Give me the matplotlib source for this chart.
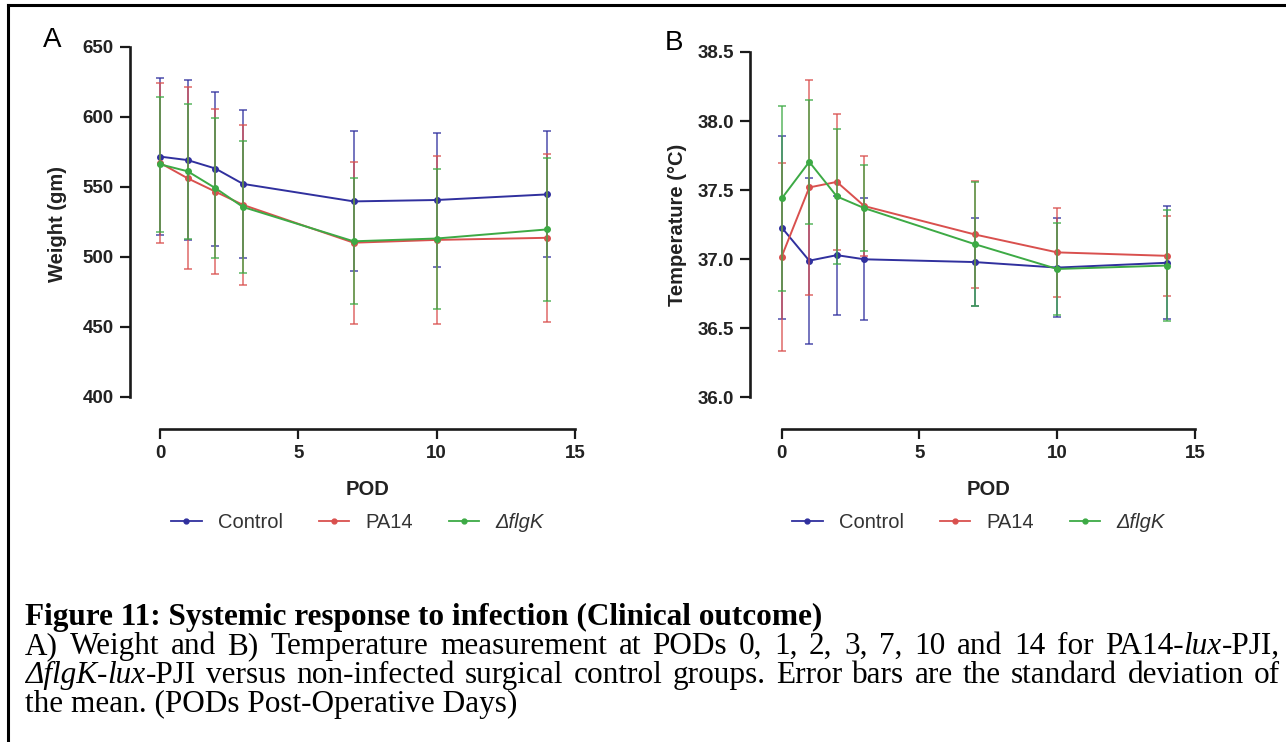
import numpy as np
import matplotlib
matplotlib.use('Agg')
import matplotlib.pyplot as plt
from matplotlib.lines import Line2D

plt.rcParams['font.family'] = ['Liberation Sans', 'DejaVu Sans']

# post-operative days
pod = [0, 1, 2, 3, 7, 10, 14]

# A) weight (gm), mean and SD
weight_control = [571.5, 569, 563, 552, 539.5, 540.5, 544.5]
weight_control_sd = [56, 57, 55, 53, 50, 48, 45]
weight_pa14 = [567, 556, 546.5, 537, 510, 512, 513.5]
weight_pa14_sd = [57, 65, 59, 57, 58, 60, 60]
weight_flgk = [566, 561, 549, 535.5, 511, 513, 519.5]
weight_flgk_sd = [48, 48, 50, 47, 45, 50, 51]

# B) temperature (°C), mean and SD
temp_control = [37.23, 36.99, 37.03, 37.00, 36.98, 36.94, 36.975]
temp_control_sd = [0.66, 0.60, 0.43, 0.44, 0.32, 0.36, 0.41]
temp_pa14 = [37.02, 37.52, 37.56, 37.385, 37.18, 37.05, 37.025]
temp_pa14_sd = [0.68, 0.78, 0.49, 0.36, 0.39, 0.32, 0.29]
temp_flgk = [37.44, 37.705, 37.455, 37.37, 37.11, 36.93, 36.955]
temp_flgk_sd = [0.67, 0.45, 0.49, 0.31, 0.45, 0.33, 0.40]

group_labels = ['Control', 'PA14', 'ΔflgK']
group_colors = ['#30309e', '#d9504e', '#3daa45']

W, H = 1286, 742
fig = plt.figure(figsize=(W / 100, H / 100), dpi=100)


def px_axes(x0, x1, y_top, y_bot):
    return fig.add_axes([x0 / W, 1 - y_bot / H, (x1 - x0) / W, (y_bot - y_top) / H])


def style_prism(ax, xlim, ylim, yticks, left_off, bottom_off):
    ax.set_xlim(*xlim)
    ax.set_ylim(*ylim)
    ax.spines['top'].set_visible(False)
    ax.spines['right'].set_visible(False)
    ax.spines['left'].set_position(('outward', left_off))
    ax.spines['bottom'].set_position(('outward', bottom_off))
    ax.spines['left'].set_bounds(*ylim)
    ax.spines['bottom'].set_bounds(*xlim)
    for s in ('left', 'bottom'):
        ax.spines[s].set_linewidth(1.9)
        ax.spines[s].set_color('#1a1a1a')
    ax.set_xticks([0, 5, 10, 15])
    ax.set_yticks(yticks)
    ax.tick_params(direction='out', length=7, width=1.6, color='#1a1a1a',
                   labelsize=13.5, pad=5)
    for lab in ax.get_xticklabels() + ax.get_yticklabels():
        lab.set_fontweight('bold')
        lab.set_color('#222222')
    ax.patch.set_alpha(0)


def plot_groups(ax, means, sds):
    for i in [1, 2, 0]:  # control drawn last, on top
        h = ax.errorbar(pod, means[i], yerr=sds[i], color=group_colors[i],
                        lw=1.4, elinewidth=1.1, capsize=3, capthick=1.1,
                        marker='o', ms=4, clip_on=False, zorder=3 + i,
                        label=group_labels[i])
        for art in h.lines[1] + h.lines[2]:
            art.set_clip_on(False)
            art.set_alpha(0.85)


# panel A
axA = px_axes(160, 575, 46.7, 396.7)
style_prism(axA, (0, 15), (400, 650), [400, 450, 500, 550, 600, 650], 21.5, 23)
plot_groups(axA, [weight_control, weight_pa14, weight_flgk],
            [weight_control_sd, weight_pa14_sd, weight_flgk_sd])
axA.set_ylabel('Weight (gm)', fontsize=14.5, fontweight='bold', color='#222222', va='center')
axA.yaxis.set_label_coords(-0.248, 0.493)
axA.set_xlabel('POD', fontsize=14.5, fontweight='bold', color='#222222', va='center')
axA.xaxis.set_label_coords(0.5, -0.264)

# panel B
axB = px_axes(781.7, 1195, 52, 397.5)
style_prism(axB, (0, 15), (36.0, 38.5), [36.0, 36.5, 37.0, 37.5, 38.0, 38.5], 22.5, 22.5)
axB.yaxis.set_major_formatter(matplotlib.ticker.FormatStrFormatter('%.1f'))
for lab in axB.get_yticklabels():
    lab.set_fontweight('bold')
plot_groups(axB, [temp_control, temp_pa14, temp_flgk],
            [temp_control_sd, temp_pa14_sd, temp_flgk_sd])
axB.set_ylabel('Temperature (°C)', fontsize=14.5, fontweight='bold', color='#222222', va='center')
axB.yaxis.set_label_coords(-0.251, 0.499)
axB.set_xlabel('POD', fontsize=14.5, fontweight='bold', color='#222222', va='center')
axB.xaxis.set_label_coords(0.5, -0.265)

# legends below each panel
for cx in (357.5, 978.5):
    handles = [Line2D([], [], color=c, lw=1.3, marker='o', ms=3.5) for c in group_colors]
    leg = fig.legend(handles, group_labels, loc='center', ncol=3,
                     bbox_to_anchor=(cx / W, 1 - 523 / H), frameon=False,
                     fontsize=14.5, handlelength=1.5, handletextpad=0.8,
                     columnspacing=1.8, labelcolor='#333333')
    leg.get_texts()[2].set_fontstyle('italic')

# panel letters
fig.text(43 / W, 1 - 40 / H, 'A', fontsize=20, va='center', ha='left')
fig.text(665 / W, 1 - 43 / H, 'B', fontsize=20, va='center', ha='left')

# frame around the figure area
fig.add_artist(Line2D([8 / W, 8 / W], [0, 1 - 5 / H], color='black', lw=2.2, transform=fig.transFigure))
fig.add_artist(Line2D([8 / W, 1], [1 - 5 / H, 1 - 5 / H], color='black', lw=2.2, transform=fig.transFigure))

# caption, drawn piece by piece so italic runs sit inline
renderer = fig.canvas.get_renderer()
cap_size = 22.5
serif = ['Liberation Serif', 'DejaVu Serif']
cap_left, cap_right = 25, 1280


def put(x_px, y_px, text, style='normal', weight='normal'):
    t = fig.text(x_px / W, 1 - y_px / H, text, fontsize=cap_size, family=serif,
                 fontstyle=style, fontweight=weight, va='baseline', ha='left')
    return t.get_window_extent(renderer).width


def draw_justified(y_px, words):
    # words: list of words, each a list of (text, style) runs
    widths = []
    for w in words:
        total = 0
        for s, st in w:
            t = fig.text(0, 0, s, fontsize=cap_size, family=serif, fontstyle=st)
            total += t.get_window_extent(renderer).width
            t.remove()
        widths.append(total)
    gap = (cap_right - cap_left - sum(widths)) / (len(words) - 1)
    x = cap_left
    for w, wd in zip(words, widths):
        xx = x
        for s, st in w:
            xx += put(xx, y_px, s, style=st)
        x += wd + gap


def plain_words(text):
    return [[(w, 'normal')] for w in text.split()]


put(cap_left, 625, 'Figure 11: Systemic response to infection (Clinical outcome)', weight='bold')
draw_justified(654, plain_words('A) Weight and B) Temperature measurement at PODs 0, 1, 2, 3, 7, 10 and 14 for')
               + [[('PA14-', 'normal'), ('lux', 'italic'), ('-PJI,', 'normal')]])
draw_justified(683, [[('ΔflgK', 'italic'), ('-', 'normal'), ('lux', 'italic'), ('-PJI', 'normal')]]
               + plain_words('versus non-infected surgical control groups. Error bars are the standard deviation of'))
put(cap_left, 712, 'the mean. (PODs Post-Operative Days)')

fig.savefig('out.png', dpi=100)
